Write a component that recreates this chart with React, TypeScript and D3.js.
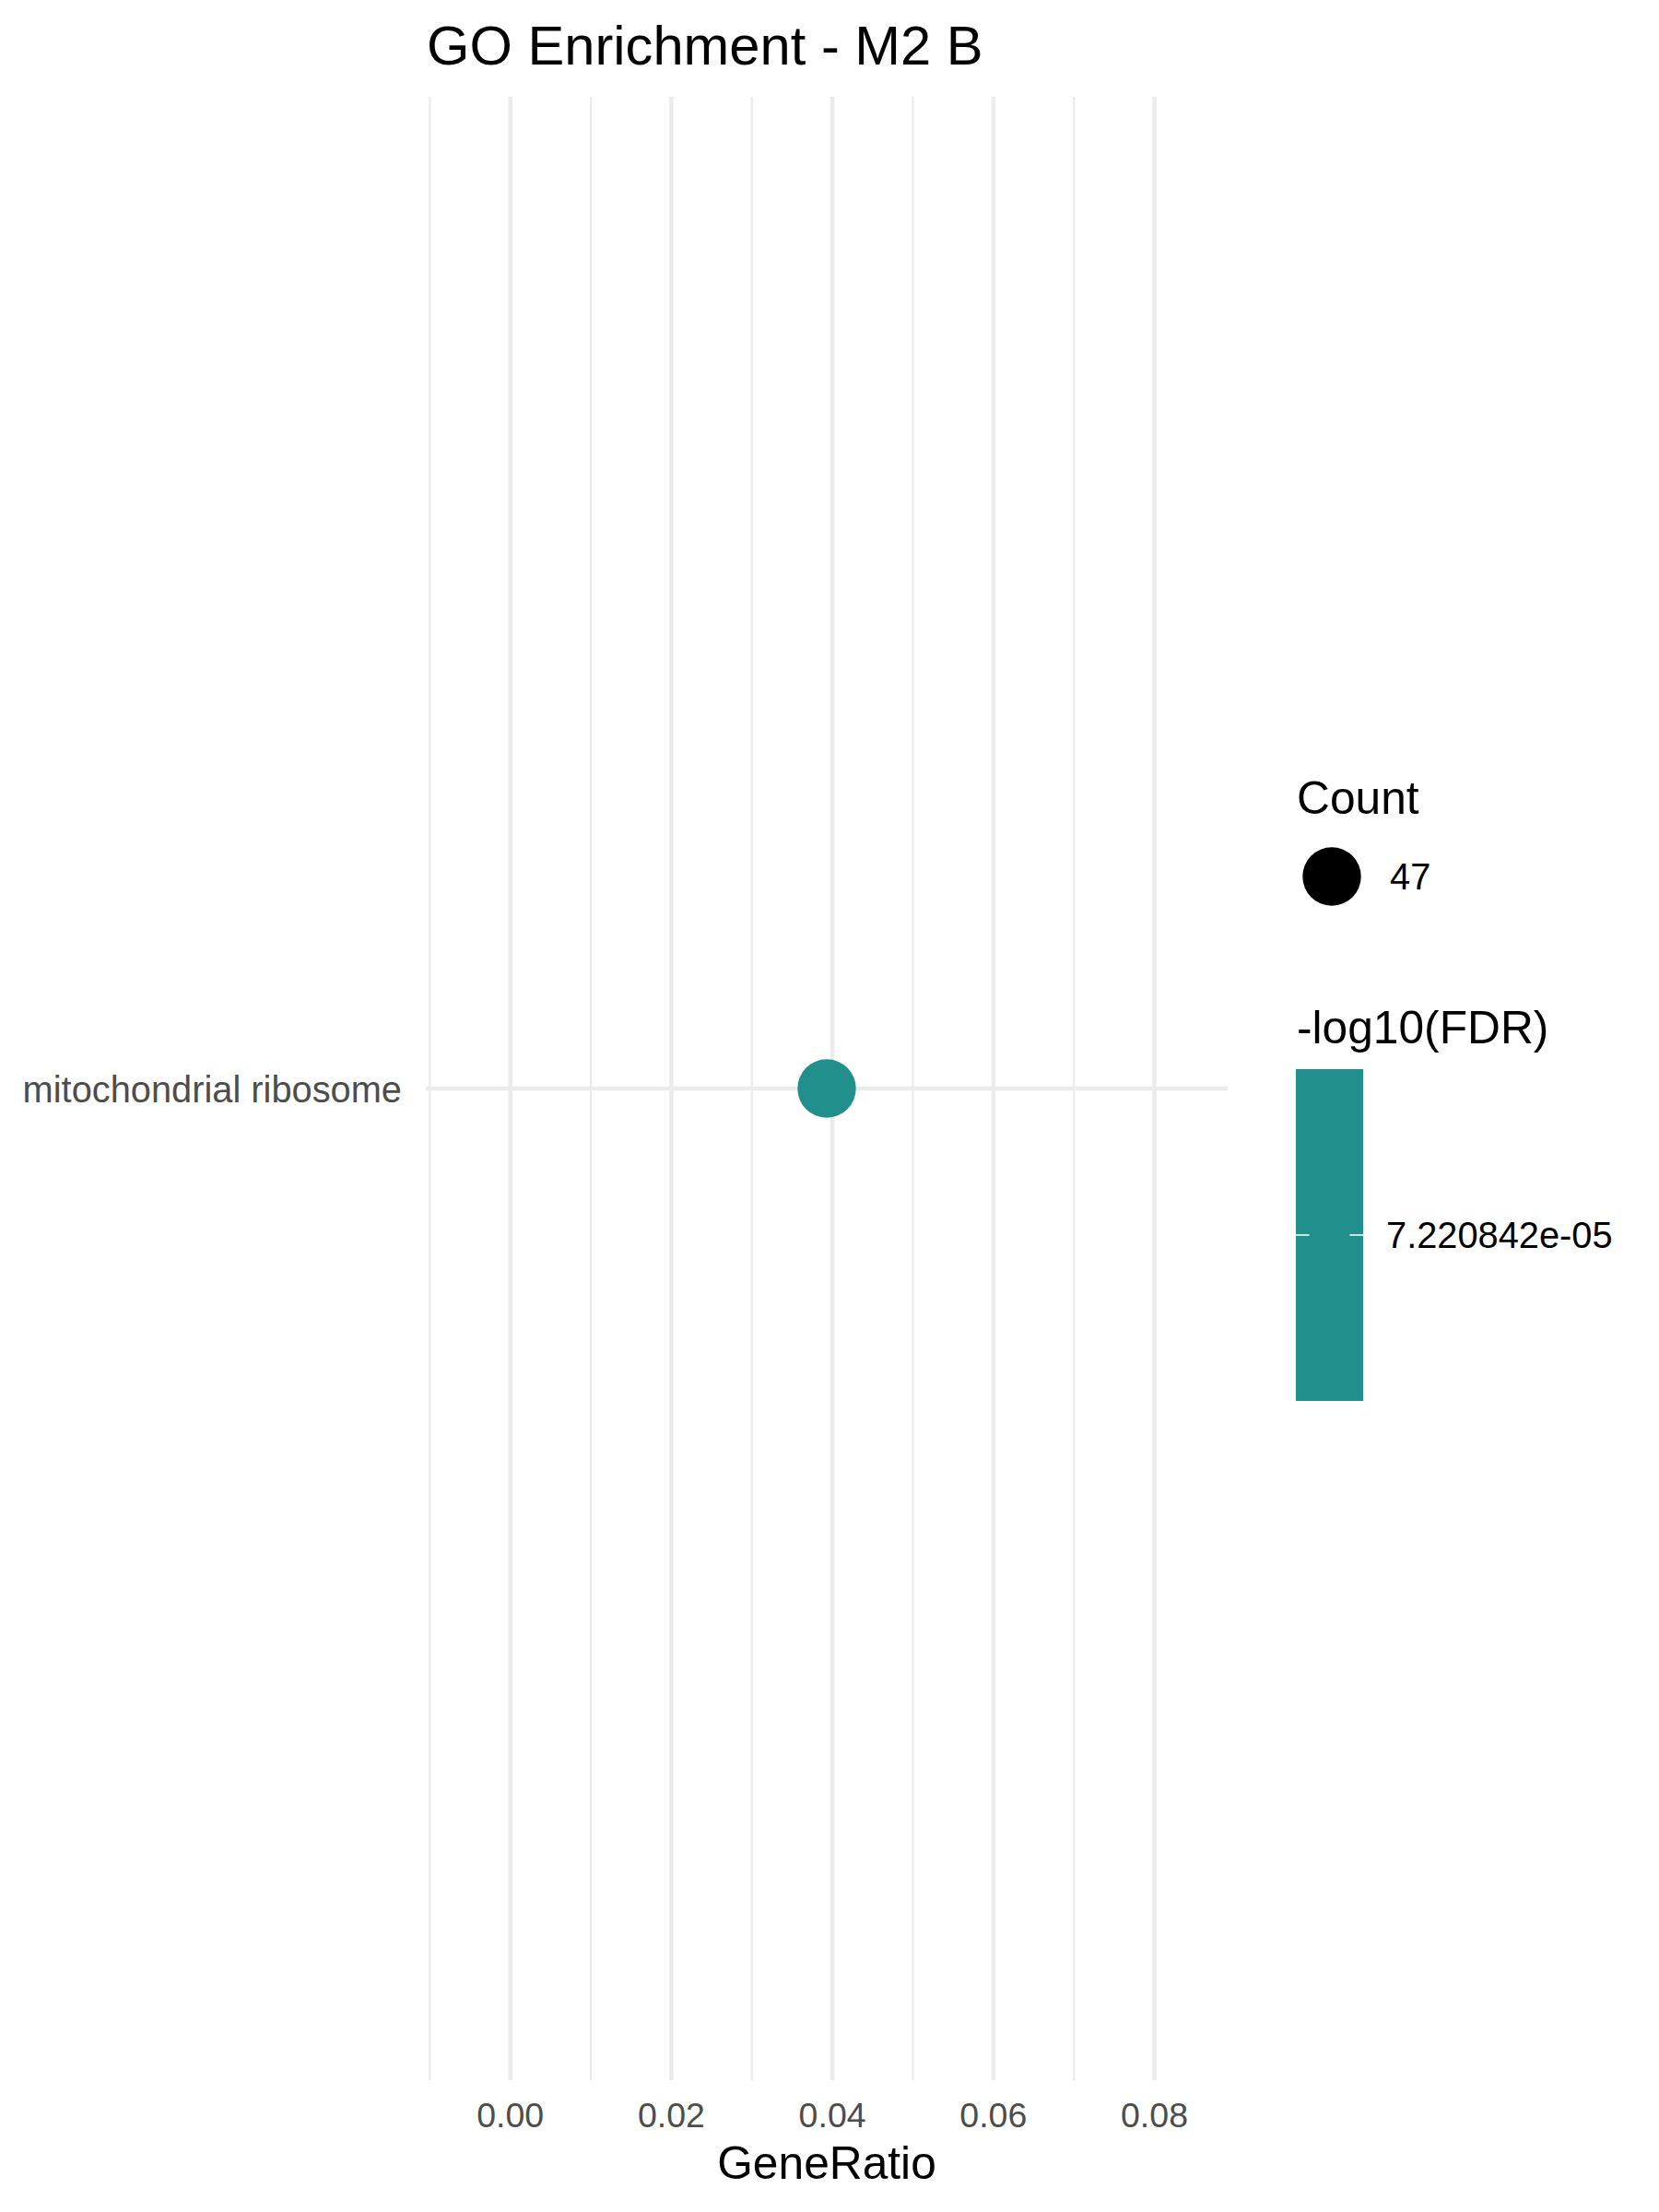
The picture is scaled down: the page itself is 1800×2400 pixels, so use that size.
import React from "react";
import * as d3 from "d3";

// ---- data ----
const terms: string[] = ["mitochondrial ribosome"];
const geneRatio: number[] = [0.0393];
const counts: number[] = [47];
const negLogFDR: number[] = [7.220842e-5];
const xTicks: number[] = [0, 0.02, 0.04, 0.06, 0.08];
const xMinor: number[] = [-0.01, 0.01, 0.03, 0.05, 0.07];
const xDomain: [number, number] = [-0.0105, 0.0891];
const colorbarLabels: string[] = ["7.220842e-05"];

const W = 1800;
const H = 2400;
const panel = { left: 462, right: 1332, top: 105, bottom: 2257 };
const FONT = "'Liberation Sans', Arial, Helvetica, sans-serif";
const GRID = "#EBEBEB";
const POINT_COLOR = "#21908C";

export default function App() {
  const x = d3.scaleLinear().domain(xDomain).range([panel.left, panel.right]);
  const y = d3
    .scalePoint<string>()
    .domain(terms)
    .range([panel.top, panel.bottom])
    .padding(0.5);
  const size = d3.scaleSqrt().domain([0, d3.max(counts) as number]).range([0, 31.7]);
  const cx = (panel.left + panel.right) / 2;

  // colorbar
  const cb = { x: 1406, y: 1160, w: 73, h: 360 };
  const cbScale = d3
    .scaleLinear()
    .domain([negLogFDR[0] - 1, negLogFDR[0] + 1])
    .range([cb.y + cb.h, cb.y]);

  return (
    <svg
      width={W}
      height={H}
      viewBox={`0 0 ${W} ${H}`}
      style={{ position: "absolute", left: 0, top: 0, background: "#fff" }}
      fontFamily={FONT}
    >
      <rect x={0} y={0} width={W} height={H} fill="#fff" />
      {xMinor.map((t) => (
        <line key={"mn" + t} x1={x(t)} x2={x(t)} y1={panel.top} y2={panel.bottom} stroke={GRID} strokeWidth={2.2} />
      ))}
      {xTicks.map((t) => (
        <line key={"mj" + t} x1={x(t)} x2={x(t)} y1={panel.top} y2={panel.bottom} stroke={GRID} strokeWidth={4.45} />
      ))}
      {terms.map((t) => (
        <line key={"hy" + t} x1={panel.left} x2={panel.right} y1={y(t)} y2={y(t)} stroke={GRID} strokeWidth={4.45} />
      ))}
      {terms.map((t, i) => (
        <circle key={"pt" + t} cx={x(geneRatio[i])} cy={y(t)} r={size(counts[i])} fill={POINT_COLOR} />
      ))}
      {terms.map((t) => (
        <text key={"yl" + t} x={436} y={(y(t) as number) + 14.5} textAnchor="end" fontSize={39.8} fill="#4D4D4D">
          {t}
        </text>
      ))}
      {xTicks.map((t) => (
        <text key={"xl" + t} x={x(t)} y={2308} textAnchor="middle" fontSize={37.5} fill="#4D4D4D">
          {t.toFixed(2)}
        </text>
      ))}
      <text x={cx} y={2364} textAnchor="middle" fontSize={49.7} fill="#000">
        GeneRatio
      </text>
      <text x={463} y={70} fontSize={59.7} fill="#000">
        GO Enrichment - M2 B
      </text>

      {/* size legend */}
      <text x={1407} y={883} fontSize={49.7} fill="#000">
        Count
      </text>
      {counts.map((c, i) => (
        <g key={"lg" + i}>
          <circle cx={1445} cy={951} r={size(c)} fill="#000" />
          <text x={1508} y={965} fontSize={39.8} fill="#000">
            {String(c)}
          </text>
        </g>
      ))}

      {/* colour legend */}
      <text x={1407} y={1132} fontSize={49.7} fill="#000">
        -log10(FDR)
      </text>
      <rect x={cb.x} y={cb.y} width={cb.w} height={cb.h} fill={POINT_COLOR} />
      {negLogFDR.map((v, i) => {
        const ty = cbScale(v);
        return (
          <g key={"cbt" + i}>
            <line x1={cb.x} x2={cb.x + cb.w / 5} y1={ty} y2={ty} stroke="#fff" strokeWidth={1.5} />
            <line x1={cb.x + cb.w - cb.w / 5} x2={cb.x + cb.w} y1={ty} y2={ty} stroke="#fff" strokeWidth={1.5} />
            <text x={1504} y={ty + 14} fontSize={39.8} fill="#000">
              {colorbarLabels[i]}
            </text>
          </g>
        );
      })}
    </svg>
  );
}
